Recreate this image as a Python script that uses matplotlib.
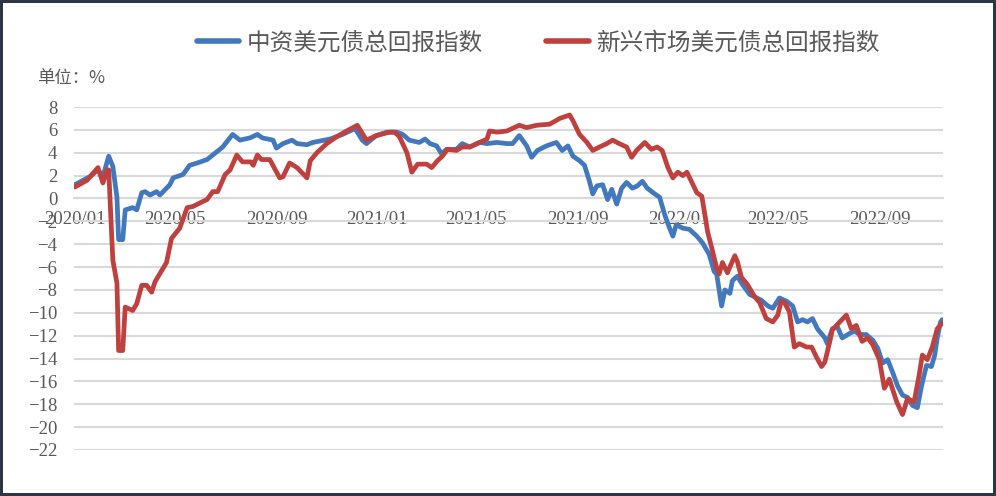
import matplotlib
matplotlib.use("Agg")
import matplotlib.pyplot as plt
import matplotlib.dates as mdates
import pandas as pd

# ---------------- data ----------------
series_names = ["中资美元债总回报指数", "新兴市场美元债总回报指数"]

cn_dates = [
    "2020-01-01", "2020-01-19", "2020-01-29", "2020-02-04", "2020-02-11", "2020-02-16",
    "2020-02-21", "2020-02-23", "2020-02-28", "2020-03-02", "2020-03-11", "2020-03-16",
    "2020-03-22", "2020-03-26", "2020-04-01", "2020-04-09", "2020-04-13", "2020-04-25",
    "2020-04-29", "2020-05-11", "2020-05-19", "2020-05-28", "2020-06-09", "2020-06-16",
    "2020-06-28", "2020-07-10", "2020-07-19", "2020-07-31", "2020-08-09", "2020-08-15",
    "2020-08-28", "2020-09-01", "2020-09-09", "2020-09-20", "2020-09-26", "2020-10-08",
    "2020-10-15", "2020-11-05", "2020-11-20", "2020-12-05", "2020-12-08", "2020-12-14",
    "2020-12-19", "2020-12-31", "2021-01-13", "2021-01-25", "2021-02-01", "2021-02-09",
    "2021-02-21", "2021-02-28", "2021-03-06", "2021-03-14", "2021-03-20", "2021-03-26",
    "2021-04-07", "2021-04-14", "2021-04-23", "2021-05-05", "2021-05-14", "2021-05-26",
    "2021-06-07", "2021-06-14", "2021-06-22", "2021-07-01", "2021-07-07", "2021-07-14",
    "2021-07-25", "2021-08-06", "2021-08-13", "2021-08-20", "2021-08-26", "2021-09-03",
    "2021-09-09", "2021-09-15", "2021-09-19", "2021-09-24", "2021-10-01", "2021-10-07",
    "2021-10-12", "2021-10-18", "2021-10-24", "2021-10-30", "2021-11-06", "2021-11-12",
    "2021-11-18", "2021-11-24", "2021-12-03", "2021-12-09", "2021-12-15", "2021-12-21",
    "2021-12-25", "2021-12-29", "2022-01-06", "2022-01-14", "2022-01-23", "2022-01-30",
    "2022-02-07", "2022-02-13", "2022-02-16", "2022-02-22", "2022-02-26", "2022-03-04",
    "2022-03-07", "2022-03-13", "2022-03-19", "2022-03-28", "2022-04-03", "2022-04-11",
    "2022-04-19", "2022-04-25", "2022-05-03", "2022-05-12", "2022-05-19", "2022-05-25",
    "2022-05-31", "2022-06-06", "2022-06-12", "2022-06-18", "2022-06-27", "2022-06-30",
    "2022-07-06", "2022-07-12", "2022-07-18", "2022-07-27", "2022-08-02", "2022-08-08",
    "2022-08-16", "2022-08-24", "2022-08-30", "2022-09-05", "2022-09-11", "2022-09-17",
    "2022-09-23", "2022-09-29", "2022-10-05", "2022-10-11", "2022-10-17", "2022-10-22",
    "2022-10-28", "2022-11-03", "2022-11-07", "2022-11-10", "2022-11-14", "2022-11-16",
]
cn_values = [
    1.2, 1.9, 2.5, 1.9, 3.7, 2.8,
    0.1, -3.6, -3.6, -1.0, -0.8, -1.0,
    0.5, 0.6, 0.3, 0.6, 0.3, 1.2,
    1.8, 2.1, 2.9, 3.1, 3.4, 3.8,
    4.5, 5.6, 5.1, 5.3, 5.6, 5.3,
    5.1, 4.4, 4.8, 5.1, 4.8, 4.7,
    4.9, 5.2, 5.6, 6.1, 5.8, 5.1,
    4.8, 5.5, 5.8, 5.8, 5.6, 5.1,
    4.9, 5.2, 4.8, 4.6, 3.9, 4.3,
    4.3, 4.8, 4.5, 4.9, 4.8, 4.9,
    4.8, 4.8, 5.5, 4.6, 3.6, 4.2,
    4.6, 4.9, 4.2, 4.6, 3.7, 3.3,
    2.9, 1.5, 0.4, 1.1, 1.2, -0.1,
    0.8, -0.5, 0.9, 1.4, 0.9, 1.1,
    1.5, 0.9, 0.4, 0.1, -1.4, -2.6,
    -3.3, -2.3, -2.6, -2.7, -3.3, -3.9,
    -4.9, -6.4, -6.6, -9.4, -8.0, -8.3,
    -7.2, -6.8, -7.5, -8.4, -8.6, -8.9,
    -9.4, -9.6, -8.7, -9.0, -9.4, -10.8,
    -10.6, -10.8, -10.5, -11.4, -12.2, -12.7,
    -11.4, -11.2, -12.2, -11.8, -11.6, -11.9,
    -11.9, -12.4, -13.1, -14.4, -14.1, -15.2,
    -16.4, -17.2, -17.4, -18.1, -18.3, -16.4,
    -14.6, -14.7, -13.7, -12.2, -10.8, -10.6,
]

em_dates = [
    "2020-01-01", "2020-01-16", "2020-01-29", "2020-02-04", "2020-02-09", "2020-02-11",
    "2020-02-16", "2020-02-21", "2020-02-23", "2020-02-28", "2020-03-02", "2020-03-11",
    "2020-03-16", "2020-03-22", "2020-03-28", "2020-04-03", "2020-04-07", "2020-04-21",
    "2020-04-27", "2020-05-07", "2020-05-16", "2020-05-23", "2020-06-03", "2020-06-09",
    "2020-06-16", "2020-06-22", "2020-07-01", "2020-07-07", "2020-07-15", "2020-07-22",
    "2020-08-01", "2020-08-04", "2020-08-09", "2020-08-14", "2020-08-24", "2020-09-05",
    "2020-09-09", "2020-09-17", "2020-09-26", "2020-10-08", "2020-10-12", "2020-10-20",
    "2020-11-01", "2020-11-13", "2020-11-25", "2020-12-08", "2020-12-19", "2020-12-31",
    "2021-01-16", "2021-01-22", "2021-01-28", "2021-02-06", "2021-02-12", "2021-02-19",
    "2021-03-02", "2021-03-08", "2021-03-15", "2021-03-21", "2021-03-27", "2021-04-07",
    "2021-04-14", "2021-04-23", "2021-05-05", "2021-05-14", "2021-05-17", "2021-05-26",
    "2021-06-07", "2021-06-22", "2021-07-01", "2021-07-13", "2021-07-29", "2021-08-10",
    "2021-08-22", "2021-08-26", "2021-09-03", "2021-09-12", "2021-09-19", "2021-09-27",
    "2021-10-06", "2021-10-13", "2021-10-21", "2021-10-30", "2021-11-05", "2021-11-11",
    "2021-11-21", "2021-11-29", "2021-12-06", "2021-12-12", "2021-12-19", "2021-12-25",
    "2021-12-31", "2022-01-06", "2022-01-11", "2022-01-17", "2022-01-23", "2022-01-29",
    "2022-02-01", "2022-02-05", "2022-02-11", "2022-02-16", "2022-02-19", "2022-02-23",
    "2022-03-01", "2022-03-10", "2022-03-13", "2022-03-18", "2022-03-25", "2022-04-03",
    "2022-04-09", "2022-04-17", "2022-04-25", "2022-05-01", "2022-05-05", "2022-05-09",
    "2022-05-15", "2022-05-21", "2022-05-27", "2022-06-05", "2022-06-11", "2022-06-17",
    "2022-06-23", "2022-06-27", "2022-07-03", "2022-07-06", "2022-07-15", "2022-07-23",
    "2022-07-29", "2022-08-04", "2022-08-11", "2022-08-18", "2022-08-24", "2022-09-01",
    "2022-09-07", "2022-09-13", "2022-09-22", "2022-09-29", "2022-10-05", "2022-10-13",
    "2022-10-19", "2022-10-23", "2022-10-29", "2022-11-04", "2022-11-10", "2022-11-16",
]
em_values = [
    1.0, 1.6, 2.7, 1.35, 2.5, 2.5,
    -5.4, -7.4, -13.3, -13.3, -9.5, -9.8,
    -9.2, -7.6, -7.6, -8.2, -7.3, -5.6,
    -3.5, -2.6, -0.8, -0.7, -0.3, -0.1,
    0.6, 0.6, 2.1, 2.5, 3.8, 3.2,
    3.2, 2.9, 3.8, 3.4, 3.4, 1.8,
    1.9, 3.1, 2.7, 1.8, 3.3, 4.0,
    4.8, 5.4, 5.9, 6.4, 5.1, 5.5,
    5.8, 5.8, 5.4, 4.0, 2.3, 3.0,
    3.0, 2.7, 3.3, 3.7, 4.3, 4.2,
    4.5, 4.5, 4.9, 5.2, 5.9, 5.8,
    5.9, 6.4, 6.2, 6.4, 6.5, 7.0,
    7.3, 6.8, 5.6, 4.9, 4.2, 4.5,
    4.8, 5.1, 4.8, 4.5, 3.6, 4.2,
    4.9, 4.3, 4.5, 4.2, 2.7, 1.8,
    2.3, 2.0, 2.3, 1.4, 0.5, 0.2,
    -1.1, -2.9, -4.6, -6.1, -6.6, -5.6,
    -6.5, -5.0, -5.5, -6.9, -7.5, -8.6,
    -9.1, -10.5, -10.8, -10.2, -9.0, -9.1,
    -9.9, -13.0, -12.7, -13.0, -13.0, -13.9,
    -14.7, -14.3, -12.5, -11.5, -10.8, -10.2,
    -11.4, -11.1, -12.5, -12.2, -12.8, -14.1,
    -16.6, -15.8, -17.8, -18.9, -17.5, -17.8,
    -15.5, -13.7, -14.1, -13.0, -11.4, -10.9,
]

x_tick_dates = ["2020-01-01", "2020-05-01", "2020-09-01", "2021-01-01", "2021-05-01",
                "2021-09-01", "2022-01-01", "2022-05-01", "2022-09-01"]
y_ticks = list(range(-22, 9, 2))
y_unit_label = "单位：%"

# ---------------- styling ----------------
CJK = ["Noto Sans CJK SC", "DejaVu Sans"]
SERIF = ["Liberation Serif", "DejaVu Serif"]
TEXT_C = "#595959"
GRID_C = "#D9D9D9"
colors = ["#4178BE", "#C0403D"]

fig = plt.figure(figsize=(9.96, 4.96), dpi=100)
fig.patch.set_facecolor("white")
fig.patch.set_edgecolor("#2D3644")
fig.patch.set_linewidth(4)

W, H = 996, 496
ax = fig.add_axes([74 / W, 1 - 450 / H, (943 - 74) / W, (450 - 107) / H])

for dates, vals, c, name in [(cn_dates, cn_values, colors[0], series_names[0]),
                             (em_dates, em_values, colors[1], series_names[1])]:
    ax.plot(pd.to_datetime(dates), vals, color=c, lw=3.4, label=name,
            solid_joinstyle="round", solid_capstyle="round")

ax.set_ylim(-22, 8)
ax.set_yticks(y_ticks)
ax.set_xlim(pd.Timestamp("2019-12-31"), pd.Timestamp("2022-11-17"))
ax.set_xticks(pd.to_datetime(x_tick_dates))
ax.xaxis.set_major_formatter(mdates.DateFormatter("%Y/%m"))

ax.grid(axis="y", color=GRID_C, lw=1.5)
ax.set_axisbelow(True)
for s in ["top", "right", "left"]:
    ax.spines[s].set_visible(False)
ax.spines["bottom"].set_position(("data", 0))
ax.spines["bottom"].set_color(GRID_C)
ax.spines["bottom"].set_linewidth(1.5)
ax.spines["bottom"].set_zorder(0.5)

ax.tick_params(axis="both", length=0, labelcolor=TEXT_C, labelsize=13.5)
ax.tick_params(axis="y", pad=12)
ax.tick_params(axis="x", pad=9)
for lab in ax.get_xticklabels() + ax.get_yticklabels():
    lab.set_fontfamily(SERIF)

fig.text(37 / W, 1 - 78 / H, y_unit_label, family=CJK, fontsize=12.5,
         color=TEXT_C, ha="left", va="center")

leg = fig.legend(loc="center", bbox_to_anchor=(538 / W, 1 - 43 / H), ncol=2,
                 frameon=False, prop={"family": CJK, "size": 17},
                 handlelength=1.8, handletextpad=0.3, columnspacing=2.7)
for t in leg.get_texts():
    t.set_color(TEXT_C)
for h in leg.get_lines():
    h.set_linewidth(4)

fig.savefig("out.png", dpi=100, facecolor=fig.get_facecolor(), edgecolor=fig.get_edgecolor())
